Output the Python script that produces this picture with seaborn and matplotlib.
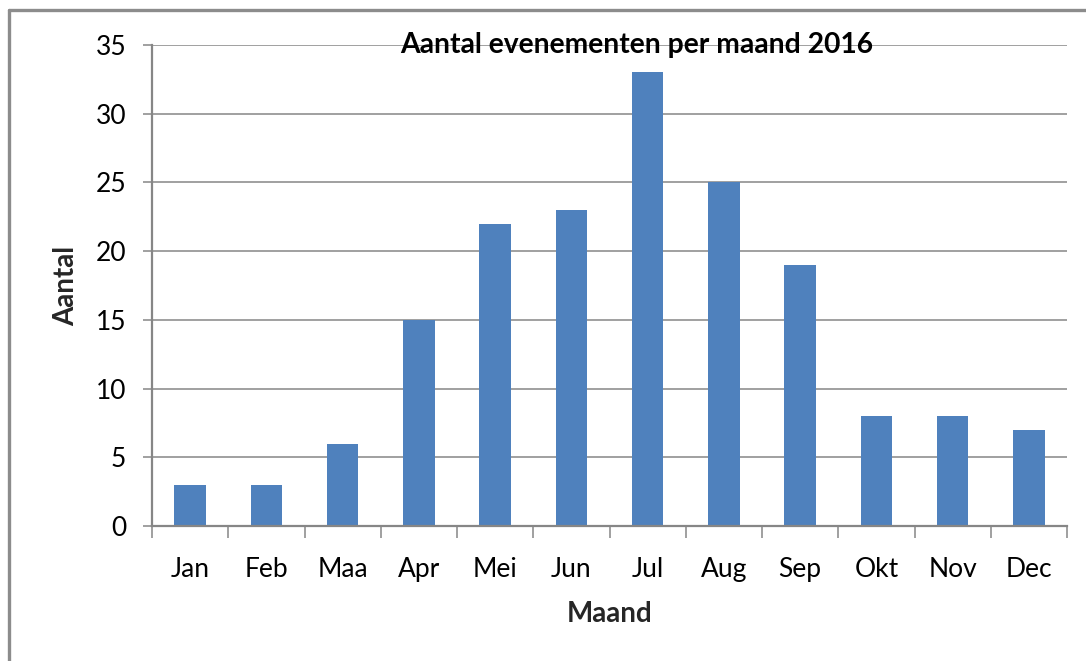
import matplotlib
matplotlib.use("Agg")
import matplotlib.pyplot as plt
from matplotlib.lines import Line2D
from matplotlib.ticker import FixedLocator, MultipleLocator
import seaborn as sns
import pandas as pd

months = ["Jan", "Feb", "Maa", "Apr", "Mei", "Jun", "Jul", "Aug", "Sep", "Okt", "Nov", "Dec"]
counts = [3, 3, 6, 15, 22, 23, 33, 25, 19, 8, 8, 7]
title = "Aantal evenementen per maand 2016"
xlabel = "Maand"
ylabel = "Aantal"

df = pd.DataFrame({"Maand": months, "Aantal": counts})

sns.set_theme(style="white")
plt.rcParams["font.family"] = ["Lato", "DejaVu Sans"]

W, H = 1086, 661
fig = plt.figure(figsize=(W / 100, H / 100), dpi=100)
ax = fig.add_axes([152 / W, 1 - 526 / H, (1067 - 152) / W, (526 - 45) / H])

grey = "#868686"
sns.barplot(data=df, x="Maand", y="Aantal", color="#4F81BD", saturation=1,
            width=0.41, linewidth=0, edgecolor="none", ax=ax, zorder=3)

ax.set_ylim(0, 35)
ax.set_xlim(-0.5, len(months) - 0.5)
ax.yaxis.set_major_locator(MultipleLocator(5))
ax.yaxis.grid(True, color=grey, linewidth=1.1, zorder=0)
ax.set_axisbelow(True)

for s in ["top", "right"]:
    ax.spines[s].set_visible(False)
for s in ["left", "bottom"]:
    ax.spines[s].set_color(grey)
    ax.spines[s].set_linewidth(1.6)
ax.spines["bottom"].set_zorder(4)

ax.tick_params(axis="y", which="major", direction="out", length=6.5, width=1.1,
               color=grey, left=True, labelsize=19, labelcolor="black", pad=12)
ax.tick_params(axis="x", which="major", length=0, labelsize=19, labelcolor="black", pad=22)
ax.xaxis.set_minor_locator(FixedLocator([i - 0.5 for i in range(len(months) + 1)]))
ax.tick_params(axis="x", which="minor", direction="out", length=8.6, width=1.1,
               color=grey, bottom=True)

ax.set_xlabel(xlabel, fontsize=20, fontweight="bold", labelpad=14)
ax.set_ylabel(ylabel, fontsize=20, fontweight="bold", labelpad=12)

fig.text(637 / W, 1 - 45 / H, title, ha="center", va="center",
         fontsize=20.3, fontweight="bold", color="black", zorder=1)

border = "#8C8C8C"
fig.add_artist(Line2D([9 / W, 1.0], [1 - 10 / H, 1 - 10 / H], transform=fig.transFigure,
                      color=border, linewidth=2.4))
fig.add_artist(Line2D([9 / W, 9 / W], [1 - 10 / H, 0.0], transform=fig.transFigure,
                      color=border, linewidth=2.4))

fig.savefig("out.png", dpi=100, facecolor="white")
